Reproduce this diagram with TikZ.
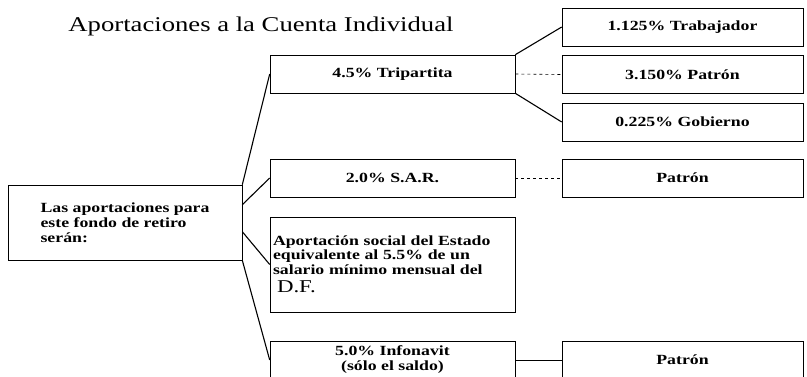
\documentclass[tikz,border=0pt]{standalone}
\usepackage{fontspec}
\setmainfont{Liberation Serif}[FakeStretch=1.27]
\usepackage{tikz}

\tikzset{
    caja/.style={draw, line width=0.6pt, minimum height=38pt, inner sep=2pt,
        font=\fontsize{14}{15}\selectfont\bfseries},
    medio/.style={caja, minimum width=245pt},
    derecha/.style={caja, minimum width=241pt},
    rama/.style={line width=1.1pt},
    enlace/.style={line width=0.6pt, dashed}
}

\begin{document}
\begin{tikzpicture}[x=1pt, y=1pt]
            \useasboundingbox (0, 0) rectangle (807, 376);

            \node (titulo) at (261, 350) {\fontsize{21}{21}\selectfont Aportaciones a la Cuenta Individual};

            \node [caja, minimum width=234pt, minimum height=75pt, align=left] (fondo) at (125, 153.5)
                {Las aportaciones para\\este fondo de retiro\\serán:};

            % columna del medio
            \node [medio] (tri) at (392.5, 302) {4.5\% Tripartita};
            \node [medio] (sar) at (392.5, 198) {2.0\% S.A.R.};
            \node [medio, minimum height=95pt, text width=239pt, align=left,
                font=\fontsize{14}{14.5}\selectfont\bfseries] (estado) at (392.5, 111.5)
                {Aportación social del Estado\\equivalente al 5.5\% de un\\salario mínimo mensual del\\[4pt]
                \hspace*{4pt}{\mdseries\fontsize{18}{18}\selectfont D.F.}};
            \node [medio, align=center] (infon) at (392.5, 16) {5.0\% Infonavit\\(sólo el saldo)};

            % columna de la derecha
            \node [derecha] (trab) at (682.5, 349) {1.125\% Trabajador};
            \node [derecha] (pat) at (682.5, 301.5) {3.150\% Patrón};
            \node [derecha] (gob) at (682.5, 254) {0.225\% Gobierno};
            \node [derecha] (patsar) at (682.5, 198) {Patrón};
            \node [derecha] (patinf) at (682.5, 16) {Patrón};

            % ramas del cuadro izquierdo
            \draw [rama] (fondo.north east) to (tri.west);
            \draw [rama] ([yshift=-20pt]fondo.north east) to (sar.west);
            \draw [rama] ([yshift=-47pt]fondo.north east) to (estado.west);
            \draw [rama] (fondo.south east) to (infon.west);

            \draw [rama] (tri.north east) to (trab.west);
            \draw [enlace] (tri.east) to (pat.west);
            \draw [rama] (tri.south east) to (gob.west);

            \draw [enlace] (sar.east) to (patsar.west);
            \draw [line width=0.6pt] (infon.east) to (patinf.west);
        \end{tikzpicture}
\end{document}
